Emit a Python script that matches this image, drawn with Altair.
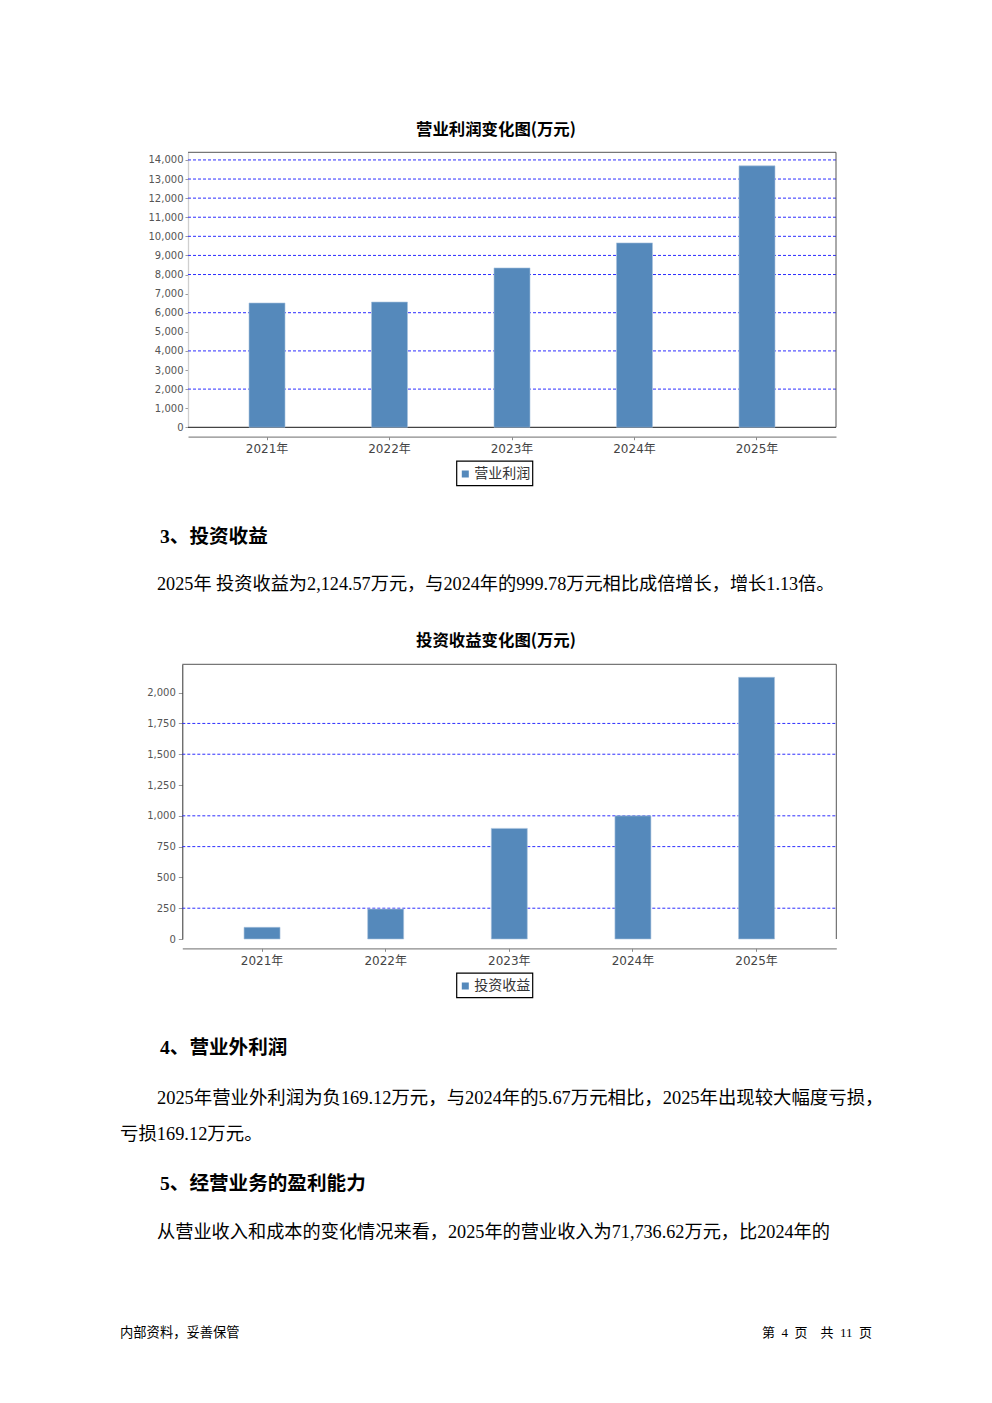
import altair as alt
import pandas as pd

# ---------------- data ----------------
years = ["2021年", "2022年", "2023年", "2024年", "2025年"]
op_profit = [6510, 6560, 8345, 9655, 13690]          # 营业利润 (万元)
inv_income = [95, 243, 898, 999.78, 2124.57]         # 投资收益 (万元)

op_ticks = list(range(0, 15000, 1000))
op_grid = [2000, 4000, 6000, 8000, 9000, 10000, 11000, 12000, 13000, 14000]
inv_ticks = list(range(0, 2001, 250))
inv_grid = [250, 750, 1000, 1500, 1750]

title1 = "营业利润变化图(万元)"
title2 = "投资收益变化图(万元)"
series1 = "营业利润"
series2 = "投资收益"

NB = "\u00a0"
heading3 = "3、投资收益"
para3 = "2025年 投资收益为2,124.57万元，与2024年的999.78万元相比成倍增长，增长1.13倍。"
heading4 = "4、营业外利润"
para4a = "2025年营业外利润为负169.12万元，与2024年的5.67万元相比，2025年出现较大幅度亏损，"
para4b = "亏损169.12万元。"
heading5 = "5、经营业务的盈利能力"
para5 = "从营业收入和成本的变化情况来看，2025年的营业收入为71,736.62万元，比2024年的"
footer_left = "内部资料，妥善保管"
footer_right = ("第" + NB * 2 + "4" + NB * 2 + "页" + NB * 4 + "共" + NB * 2 + "11"
                + NB * 2 + "页")

# ---------------- styles ----------------
BAR = "#5589BB"
GRID = "#2E2EFF"
CJK = "Noto Sans CJK SC"
BODY = "Liberation Serif, Noto Sans CJK SC"
AXF = "DejaVu Sans, Noto Sans CJK SC"

W, H = 976, 1387


def one(v):
    return alt.Data(values=[{"t": v}])


def txt(s, x, y, size, weight="normal", font=BODY, align="left", color="#000000"):
    return alt.Chart(one(s)).mark_text(
        align=align, baseline="middle", fontSize=size, fontWeight=weight,
        font=font, color=color
    ).encode(x=alt.value(x), y=alt.value(y), text="t:N")


def hline(x1, x2, y, color, width=1.0):
    return alt.Chart(one("")).mark_rule(color=color, strokeWidth=width).encode(
        x=alt.value(x1), x2=alt.value(x2), y=alt.value(y))


def vline(x, y1, y2, color, width=1.0):
    return alt.Chart(one("")).mark_rule(color=color, strokeWidth=width).encode(
        x=alt.value(x), y=alt.value(y1), y2=alt.value(y2))


def box(x1, x2, y1, y2):
    return alt.Chart(one("")).mark_rect(fill="#ffffff", stroke="#000000",
                                        strokeWidth=1.2).encode(
        x=alt.value(x1), x2=alt.value(x2), y=alt.value(y1), y2=alt.value(y2))


def bar_chart(vals, series, ticks, grid, dom_max, xr, yr, x_axis_y, y_axis_color,
              lab_pad_y, tick_y, legend_xy):
    df = pd.DataFrame({"year": years, "v": vals, "s": [series] * len(years)})
    xs = alt.Scale(domain=years, range=xr, paddingInner=0.71, paddingOuter=0.5)
    ys = alt.Scale(domain=[0, dom_max], range=yr, nice=False, zero=True)
    bars = alt.Chart(df).mark_bar(size=36, stroke="#A9C3DD", strokeWidth=0.6).encode(
        x=alt.X("year:N", scale=xs, sort=years, title=None,
                axis=alt.Axis(orient="bottom", offset=x_axis_y - H, domainColor="#8a8a8a",
                              domainWidth=1.2, tickColor="#8a8a8a", tickSize=3,
                              labelPadding=4, labelFontSize=12, labelFont=AXF,
                              labelColor="#444444", labelAngle=0, grid=False)),
        y=alt.Y("v:Q", scale=ys, title=None,
                axis=alt.Axis(orient="left", offset=-xr[0], values=ticks, format=",d",
                              domainColor=y_axis_color, domainWidth=1.3 if y_axis_color != "#333333" else 1,
                              tickColor="#999999", tickSize=tick_y, labelPadding=lab_pad_y,
                              labelFontSize=10, labelFont=AXF, labelColor="#555555",
                              labelOverlap=False, grid=False)),
        color=alt.Color("s:N", scale=alt.Scale(domain=[series], range=[BAR]),
                        legend=alt.Legend(orient="none", legendX=legend_xy[0],
                                          legendY=legend_xy[1], title=None,
                                          padding=0, symbolType="square", symbolSize=49,
                                          symbolStrokeWidth=0, labelFontSize=14,
                                          labelFont=CJK, labelColor="#333333",
                                          labelOffset=2)),
    )
    gdf = pd.DataFrame({"g": grid})
    gl = alt.Chart(gdf).mark_rule(color=GRID, strokeDash=[3, 2], strokeWidth=1).encode(
        y=alt.Y("g:Q", scale=ys, axis=None),
        x=alt.value(xr[0]), x2=alt.value(xr[1]))
    return gl, bars


# chart 1 (page coords minus 8px margin)
c1_xr = [180, 828]
c1_yr = [419.3, 144.3]
gl1, bars1 = bar_chart(op_profit, series1, op_ticks, op_grid, 14400, c1_xr, c1_yr,
                       428.7, "#cfcfcf", 2, 3, (450.3, 459))
frame1 = [hline(180, 828, 144.3, "#555555"), vline(828, 144.3, 419.3, "#555555"),
          hline(180, 828, 419.3, "#444444", 1.2), box(448.7, 524.7, 453.2, 477.7)]

# chart 2
c2_xr = [174.3, 828.3]
c2_yr = [931.0, 656.3]
gl2, bars2 = bar_chart(inv_income, series2, inv_ticks, inv_grid, 2230, c2_xr, c2_yr,
                       940.3, "#333333", 3, 4, (450.3, 971))
frame2 = [hline(174.3, 828.3, 656.3, "#555555"), vline(828.3, 656.3, 931, "#555555"),
          box(448.7, 524.7, 965.2, 989.7)]

texts = [
    txt(title1, 488, 122, 16.4, "bold", CJK, "center"),
    txt(title2, 488, 633, 16.4, "bold", CJK, "center"),
    txt(heading3, 152, 529, 19.6, "bold"),
    txt(para3, 149, 577, 18.2),
    txt(heading4, 152, 1040, 19.6, "bold"),
    txt(para4a, 149, 1090, 18.4),
    txt(para4b, 112, 1126, 18.4),
    txt(heading5, 152, 1176, 19.6, "bold"),
    txt(para5, 149, 1225, 18.2),
    txt(footer_left, 112, 1325, 13.3, font=CJK),
    txt(footer_right, 864, 1325, 13, font=BODY, align="right"),
]

chart = alt.layer(
    gl1, *frame1, bars1, gl2, *frame2, bars2, *texts
).resolve_scale(
    x="independent", y="independent", color="independent"
).resolve_axis(
    x="independent", y="independent"
).resolve_legend(
    color="independent"
).properties(
    width=W, height=H, padding=0, autosize=alt.AutoSizeParams(type="none"),
    background="#ffffff"
).configure_view(stroke=None)

chart.save("out.html", embed_options={"renderer": "svg", "actions": False})
